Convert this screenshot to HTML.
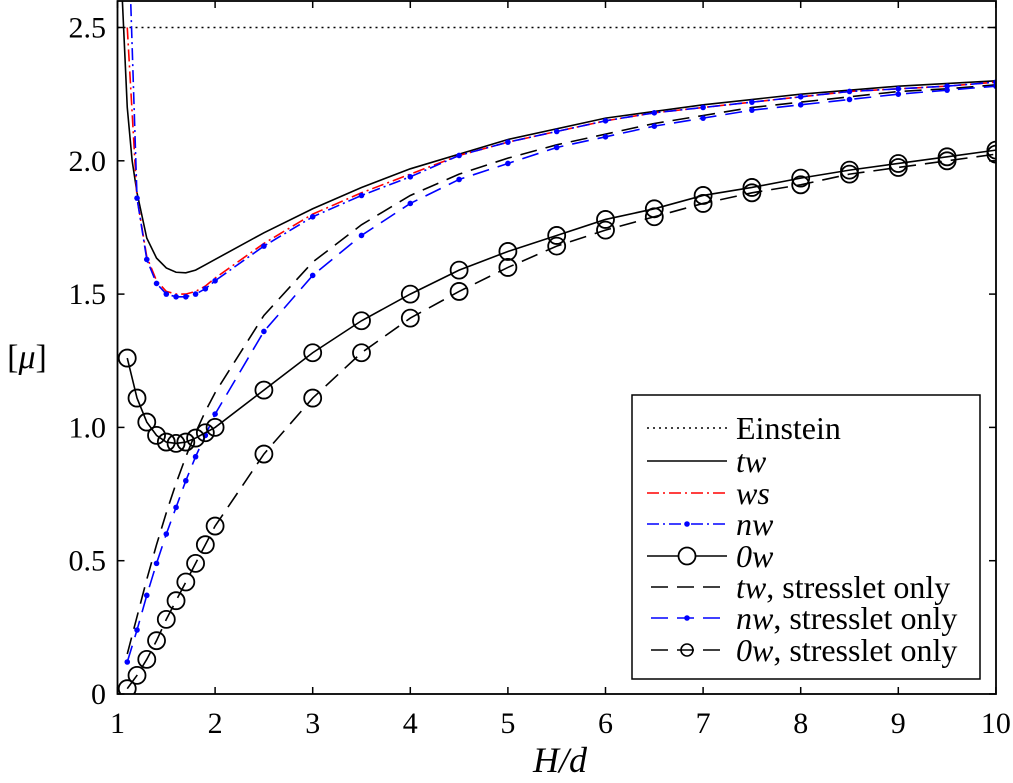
<!DOCTYPE html>
<html><head><meta charset="utf-8"><style>
body{margin:0;background:#fff}
svg{display:block;font-family:"Liberation Serif",serif}
</style></head><body>
<svg id="chart" width="1013" height="783" viewBox="0 0 1013 783">
<defs><clipPath id="clip"><rect x="117.5" y="1" width="878.5" height="693"/></clipPath></defs>
<g id="plot" clip-path="url(#clip)"></g>
<g id="axes"></g>
<text x="560" y="772" font-size="36" text-anchor="middle" font-style="italic">H/d</text>
<text x="27" y="368" font-size="34" text-anchor="middle">[<tspan font-style="italic">μ</tspan>]</text>
<g id="legend"></g>
</svg>
<script>
const xsA=[1.1,1.2,1.3,1.4,1.5,1.6,1.7,1.8,1.9,2.0,2.5,3,3.5,4,4.5,5,5.5,6,6.5,7,7.5,8,8.5,9,9.5,10];
const twX=[1.02,1.05,1.1,1.15,1.2,1.3,1.4,1.5,1.6,1.7,1.8,1.9,2.0,2.5,3,3.5,4,5,6,7,8,9,10];
const twY=[3.2,2.6,2.2,2.0,1.88,1.71,1.635,1.598,1.582,1.58,1.59,1.61,1.63,1.73,1.82,1.90,1.97,2.08,2.16,2.21,2.25,2.28,2.30];
const wsY=[2.5,1.86,1.64,1.55,1.51,1.50,1.50,1.51,1.53,1.56,1.69,1.80,1.88,1.95,2.02,2.07,2.11,2.15,2.18,2.20,2.22,2.24,2.26,2.27,2.28,2.295];
const nwY=[3.0,1.86,1.63,1.54,1.50,1.49,1.49,1.50,1.52,1.55,1.68,1.79,1.87,1.94,2.02,2.07,2.11,2.15,2.18,2.20,2.22,2.24,2.26,2.27,2.28,2.295];
const zwY=[1.26,1.11,1.02,0.97,0.945,0.94,0.945,0.96,0.98,1.00,1.14,1.28,1.40,1.50,1.59,1.66,1.72,1.78,1.82,1.87,1.90,1.935,1.965,1.99,2.015,2.04];
const twSY=[0.15,0.29,0.43,0.56,0.68,0.79,0.89,0.98,1.06,1.13,1.42,1.62,1.76,1.87,1.95,2.01,2.06,2.10,2.14,2.17,2.20,2.22,2.24,2.26,2.27,2.285];
const nwSY=[0.12,0.24,0.37,0.49,0.60,0.70,0.80,0.89,0.97,1.05,1.36,1.57,1.72,1.84,1.93,1.99,2.05,2.09,2.13,2.16,2.19,2.21,2.23,2.25,2.265,2.28];
const zwSY=[0.02,0.07,0.13,0.20,0.28,0.35,0.42,0.49,0.56,0.63,0.90,1.11,1.28,1.41,1.51,1.60,1.68,1.74,1.79,1.84,1.88,1.91,1.95,1.975,2.00,2.025];
const einstein=2.5;
const xTicks=[1,2,3,4,5,6,7,8,9,10];
const yTicks=[0,0.5,1.0,1.5,2.0,2.5];
const yTickLabels=["0","0.5","1.0","1.5","2.0","2.5"];

const X=v=>117.5+(v-1)*97.6;
const Y=v=>694-v*266.6;
const NS="http://www.w3.org/2000/svg";
function mk(tag,attrs,parent){const e=document.createElementNS(NS,tag);for(const k in attrs)e.setAttribute(k,attrs[k]);parent.appendChild(e);return e;}
const plot=document.getElementById('plot'),axes=document.getElementById('axes'),leg=document.getElementById('legend');
function line(xs,ys,stroke,dash,name){
  const p=mk('polyline',{points:xs.map((x,i)=>X(x)+','+Y(ys[i])).join(' '),fill:'none',stroke:stroke,'stroke-width':1.6,'stroke-dasharray':dash||'none'},plot);
  
  
}
function dots(xs,ys,name){xs.forEach((x,i)=>{const c=mk('circle',{cx:X(x),cy:Y(ys[i]),r:2.8,fill:'#0000ff'},plot);
  
  });}
function circles(xs,ys,name){xs.forEach((x,i)=>{const c=mk('circle',{cx:X(x),cy:Y(ys[i]),r:8.5,fill:'none',stroke:'#000','stroke-width':1.8},plot);
  
  });}

const e=mk('line',{x1:X(1),x2:X(10),y1:Y(einstein),y2:Y(einstein),stroke:'#000','stroke-width':1.5,'stroke-dasharray':'2 4'},plot);


line(xsA,twSY,'#000','17 9','tw-stresslet-line');
line(xsA,nwSY,'#0000ff','17 9','nw-stresslet-line');dots(xsA,nwSY,'nw-stresslet-point');
line(xsA,zwSY,'#000','17 9','0w-stresslet-line');circles(xsA,zwSY,'0w-stresslet-marker');
line(twX,twY,'#000','','tw-line');
line(xsA,wsY,'#ff0000','12 4 2 4','ws-line');
line(xsA,nwY,'#0000ff','12 4 2 4','nw-line');dots(xsA,nwY,'nw-point');
line(xsA,zwY,'#000','','0w-line');circles(xsA,zwY,'0w-marker');

const fr=mk('rect',{x:117.5,y:1,width:878.5,height:693,fill:'none',stroke:'#000','stroke-width':1.8},axes);


xTicks.forEach(t=>{
  mk('line',{x1:X(t),x2:X(t),y1:694,y2:687,stroke:'#000','stroke-width':1.5},axes);
  mk('line',{x1:X(t),x2:X(t),y1:1,y2:8,stroke:'#000','stroke-width':1.5},axes);
  const tx=mk('text',{x:X(t),y:733,'font-size':30,'text-anchor':'middle'},axes);tx.textContent=t;
  
  
});
yTicks.forEach((t,i)=>{
  mk('line',{x1:117.5,x2:124.5,y1:Y(t),y2:Y(t),stroke:'#000','stroke-width':1.5},axes);
  mk('line',{x1:996,x2:989,y1:Y(t),y2:Y(t),stroke:'#000','stroke-width':1.5},axes);
  const tx=mk('text',{x:106,y:Y(t)+10,'font-size':30,'text-anchor':'end'},axes);tx.textContent=yTickLabels[i];
  
  
});

const lb=mk('rect',{x:632,y:395,width:348,height:284,fill:'#fff',stroke:'#000','stroke-width':1.5},leg);


const items=[
 ['Einstein','#000','2 4','none','','Einstein'],
 ['tw','#000','','none','<tspan font-style="italic">tw</tspan>'],
 ['ws','#ff0000','12 4 2 4','none','<tspan font-style="italic">ws</tspan>'],
 ['nw','#0000ff','12 4 2 4','dot','<tspan font-style="italic">nw</tspan>'],
 ['0w','#000','','circ','<tspan font-style="italic">0w</tspan>'],
 ['tw-s','#000','17 9','none','<tspan font-style="italic">tw</tspan>, stresslet only'],
 ['nw-s','#0000ff','17 9','dot','<tspan font-style="italic">nw</tspan>, stresslet only'],
 ['0w-s','#000','17 9','circs','<tspan font-style="italic">0w</tspan>, stresslet only']];
const rowsY=[428,461,493,524,556,587,618,650];
items.forEach((it,i)=>{
  const y=rowsY[i];
  const g=mk('g',{},leg);
  
  
  mk('line',{x1:647,x2:727,y1:y,y2:y,stroke:it[1],'stroke-width':1.6,'stroke-dasharray':it[2]||'none','stroke-dashoffset':it[2]=='17 9'?-4:0},g);
  if(it[3]=='dot')mk('circle',{cx:687,cy:y,r:2.8,fill:'#0000ff'},g);
  if(it[3]=='circ')mk('circle',{cx:687,cy:y,r:8.5,fill:'#fff',stroke:'#000','stroke-width':1.8},g);
  if(it[3]=='circs')mk('circle',{cx:687,cy:y,r:6,fill:'none',stroke:'#000','stroke-width':1.6},g);
  const t=mk('text',{x:736,y:y+11,'font-size':32},g);
  if(i==0)t.textContent='Einstein';else t.innerHTML=it[4];
});
</script>
</body></html>
